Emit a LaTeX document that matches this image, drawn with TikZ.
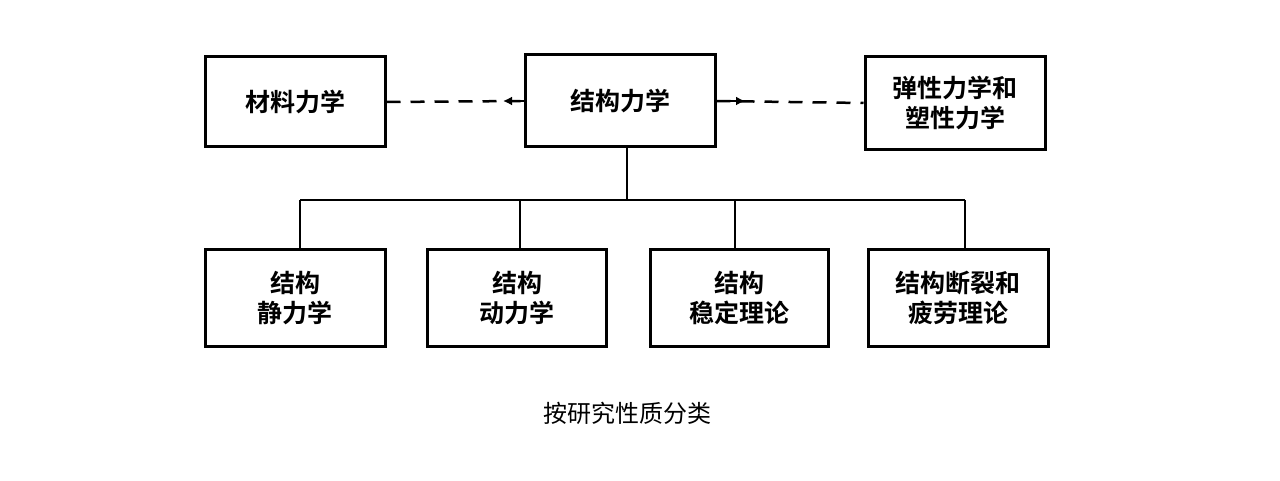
\documentclass[tikz,border=0pt]{standalone}
\usepackage{fontspec}
\newfontfamily\cjk{Noto Sans CJK SC}
\newfontfamily\cjkb{Noto Sans CJK SC Bold}
\usetikzlibrary{arrows.meta}
\begin{document}
\begin{tikzpicture}[x=1pt,y=-1pt,
 box/.style={draw,line width=3pt,inner sep=0pt,font=\cjkb\fontsize{25}{30}\selectfont,align=center},
 ln/.style={line width=2.5pt},
 dl/.style={line width=2.5pt,dash pattern=on 14pt off 10pt},
 tip/.style={line width=2.5pt,-{Latex[length=9pt,width=9pt]}}]
\useasboundingbox (0,0) rectangle (1280,481);
\node[box,minimum width=180pt,minimum height=90pt] (a) at (295,102) {材料力学};
\node[box,minimum width=190pt,minimum height=92pt] (b) at (620,101) {结构力学};
\node[box,minimum width=180pt,minimum height=93pt] (c) at (955,103) {弹性力学和\\塑性力学};
\node[box,minimum width=180pt,minimum height=97pt] (d1) at (295,298) {结构\\静力学};
\node[box,minimum width=179pt,minimum height=97pt] (d2) at (517,298) {结构\\动力学};
\node[box,minimum width=178pt,minimum height=97pt] (d3) at (739,298) {结构\\稳定理论};
\node[box,minimum width=180pt,minimum height=97pt] (d4) at (958,298) {结构断裂和\\疲劳理论};
\draw[dl] (a.east) -- (b.west);
\draw[dl] (b.east) -- (c.west);
\coordinate (t1) at (524,101);
\coordinate (t1e) at (503,101);
\coordinate (t2) at (716,101);
\coordinate (t2e) at (745,101);
\draw[tip] (t1) -- (t1e);
\draw[tip] (t2) -- (t2e);
\coordinate (j) at (627,200);
\draw[ln] (b.south -| j) -- (j);
\draw[ln] (300,200) -- (965,200);
\draw[ln] (300,200) -- (300,250);
\draw[ln] (520,200) -- (520,250);
\draw[ln] (735,200) -- (735,250);
\draw[ln] (965,200) -- (965,250);
\node[font=\cjk\fontsize{24}{28}\selectfont] (cap) at (627,413) {按研究性质分类};
\end{tikzpicture}
\end{document}
